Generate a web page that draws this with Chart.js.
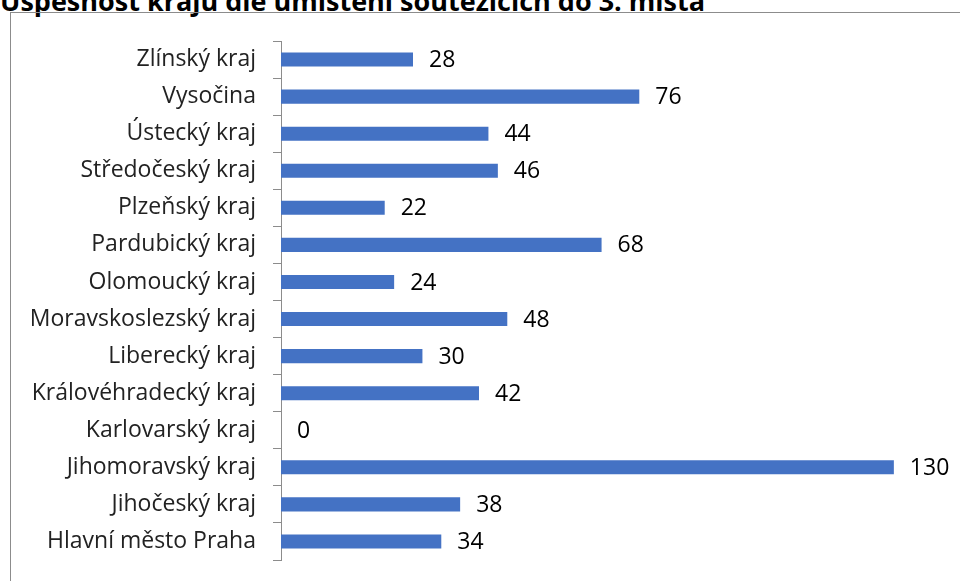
<!DOCTYPE html>
<html>
<head>
<meta charset="utf-8">
<script src="https://cdn.jsdelivr.net/npm/chart.js@4"></script>
<style>
  html, body { margin: 0; padding: 0; background: #fff; width: 960px; height: 581px; overflow: hidden; }
  #title {
    position: absolute; left: 0; top: -18px; white-space: nowrap; line-height: 1;
    font: bold 27px "Open Sans", sans-serif; color: #000;
  }
  #frame {
    position: absolute; left: 10px; top: 12px; width: 980px; height: 600px;
    border: 1px solid #8c8c8c;
  }
  #chart { position: absolute; left: 0; top: 0; }
</style>
</head>
<body>
<div id="title">Úspěšnost krajů dle umístění soutěžících do 3. místa</div>
<div id="frame"></div>
<canvas id="chart" width="960" height="581"></canvas>
<script>
var regions = [
    "Zlínský kraj", "Vysočina", "Ústecký kraj", "Středočeský kraj", "Plzeňský kraj",
    "Pardubický kraj", "Olomoucký kraj", "Moravskoslezský kraj", "Liberecký kraj",
    "Královéhradecký kraj", "Karlovarský kraj", "Jihomoravský kraj", "Jihočeský kraj",
    "Hlavní město Praha"
];
var counts = [28, 76, 44, 46, 22, 68, 24, 48, 30, 42, 0, 130, 38, 34];

// value labels at the end of each bar
var barLabels = {
    id: 'barLabels',
    afterDatasetsDraw: chart => {
        let ctx = chart.ctx;
        let meta = chart.getDatasetMeta(0);
        ctx.save();
        ctx.font = '23px "Open Sans", sans-serif';
        ctx.fillStyle = '#000';
        ctx.textAlign = 'left';
        ctx.textBaseline = 'middle';
        meta.data.forEach((bar, i) => {
            ctx.fillText(String(counts[i]), bar.x + 16, bar.y + 1);
        });
        ctx.restore();
    }
};

var ctx = document.getElementById('chart').getContext('2d');
var chart = new Chart(ctx, {
    type: 'bar',
    data: {
        labels: regions,
        datasets: [{
            data: counts,
            backgroundColor: '#4472C4',
            barPercentage: 0.38,
            categoryPercentage: 1
        }]
    },
    options: {
        indexAxis: 'y',
        responsive: false,
        animation: false,
        events: [],
        layout: { padding: { top: 41, bottom: 21, left: 0, right: 19 } },
        plugins: { legend: { display: false }, tooltip: { enabled: false } },
        scales: {
            x: { display: false, min: 0, max: 140 },
            y: {
                afterFit: scale => {
                    scale.width = 281;
                    scale.paddingTop = 0;
                    scale.paddingBottom = 0;
                },
                border: { display: true, color: '#8c8c8c', width: 1 },
                grid: { drawOnChartArea: false, drawTicks: true, tickLength: 8, offset: true, color: '#8c8c8c' },
                ticks: {
                    color: '#222',
                    padding: 17,
                    font: { family: '"Open Sans", sans-serif', size: 23 }
                }
            }
        }
    },
    plugins: [barLabels]
});
</script>
</body>
</html>
